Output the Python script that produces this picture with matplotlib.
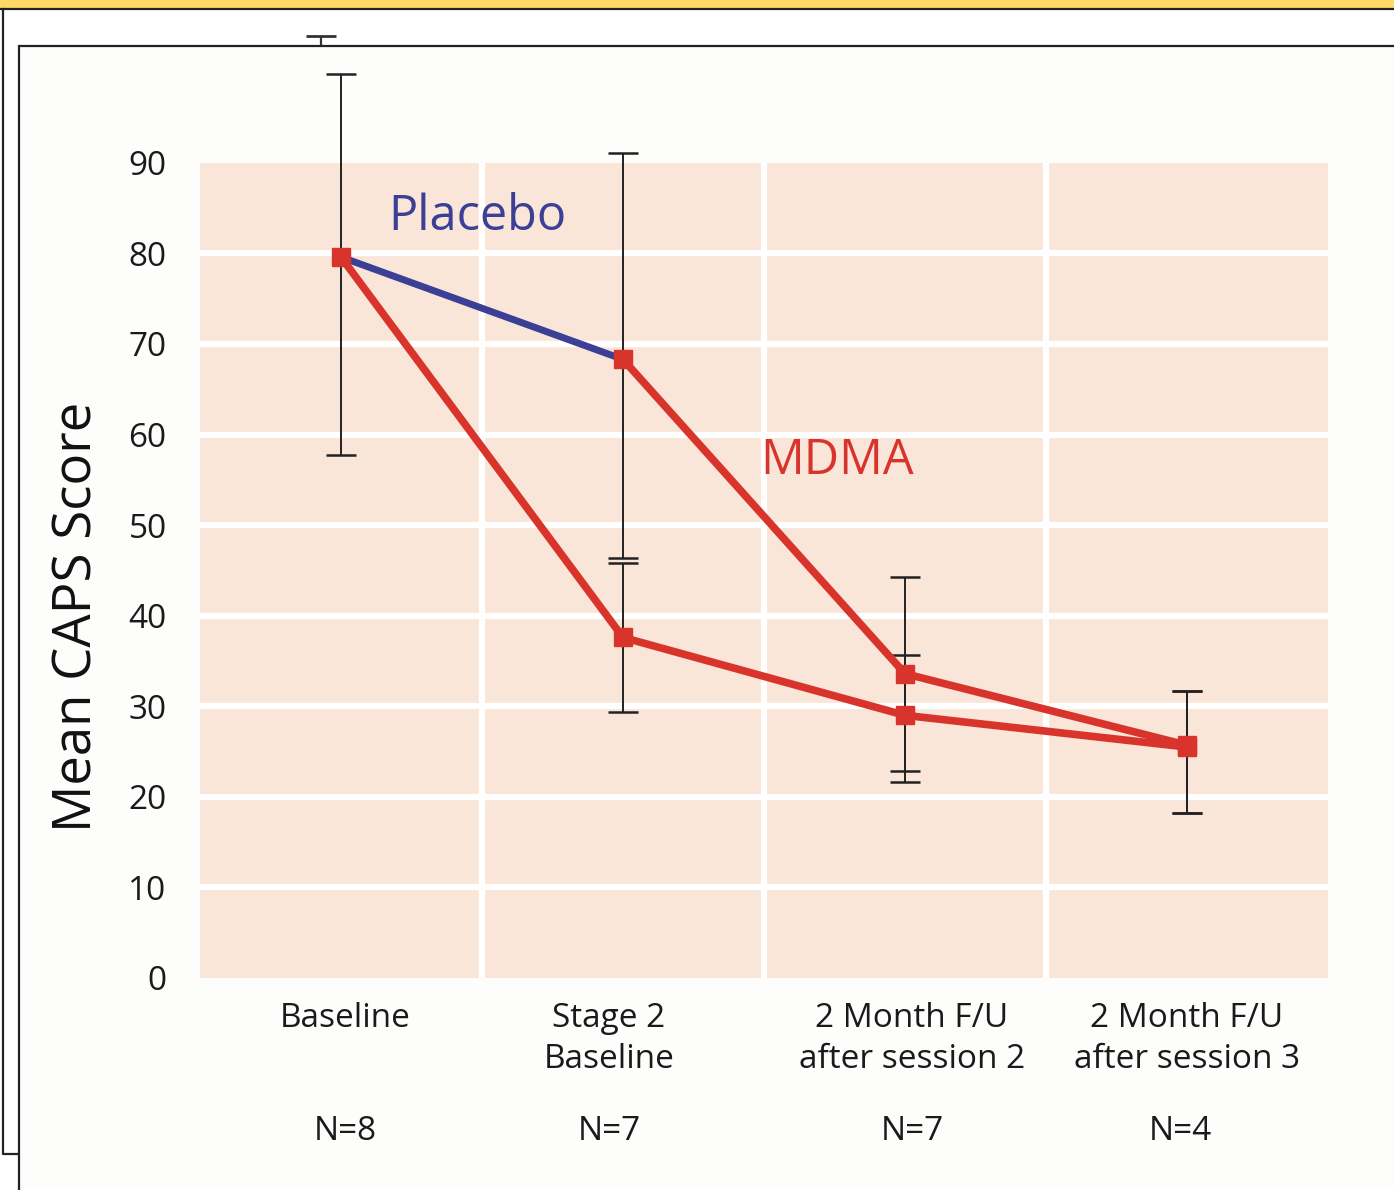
import matplotlib.pyplot as plt
from matplotlib.patches import Rectangle
from matplotlib.lines import Line2D
import numpy as np

plt.rcParams['font.family'] = ['Open Sans', 'DejaVu Sans']

# Data
categories = ["Baseline", "Stage 2\nBaseline", "2 Month F/U\nafter session 2", "2 Month F/U\nafter session 3"]
n_counts = [8, 7, 7, 4]
x_pos = np.arange(len(categories))

# original MDMA group
mdma = [79.6, 37.6, 29.0, 25.5]
mdma_lo = [57.7, 29.4, 21.6, 18.2]
mdma_hi = [99.8, 45.8, 35.7, 31.7]

# placebo group, crossing over to MDMA after stage 2 baseline
placebo = [79.6, 68.3]
placebo_lo = [55.3, 46.4]
placebo_hi = [104.0, 91.1]
crossover = [68.3, 33.6, 25.7]
crossover_lo = [46.4, 22.8, 18.2]
crossover_hi = [91.1, 44.3, 31.7]

red = '#d9342b'
blue = '#3b3f95'
peach = '#f9e6d9'
ink = '#1a1a1a'

fig = plt.figure(figsize=(13.94, 11.9), dpi=100)
W, H = 1394, 1190

# page decoration: yellow strip and the frames
fig.patches.append(Rectangle((0, 1 - 8 / H), 1, 8 / H, transform=fig.transFigure,
                             facecolor='#ffd966', edgecolor='none', zorder=-10))
fig.add_artist(Line2D([0, 1], [1 - 8.5 / H] * 2, color='#222222', lw=1.6, zorder=-9))
fig.add_artist(Line2D([3.5 / W, 3.5 / W, 19 / W], [1 - 8.5 / H, 1 - 1154 / H, 1 - 1154 / H],
                      color='#222222', lw=1.6, zorder=-9))

ax = fig.add_axes([200 / W, (H - 978) / H, 1128 / W, (978 - 46) / H])
ax.set_xlim(-0.5, 3.5)
ax.set_ylim(0, 102.9)
ax.patch.set_visible(False)
for s in ax.spines.values():
    s.set_visible(False)

# placebo baseline error bar, mostly hidden behind the inner frame
eb = ax.errorbar([x_pos[0] - 0.07], [placebo[0]],
                 yerr=[[placebo[0] - placebo_lo[0]], [placebo_hi[0] - placebo[0]]],
                 fmt='none', ecolor='#333333', elinewidth=1.6, capsize=11, capthick=2, zorder=0.2)
for art in eb.lines[1] + eb.lines[2]:
    art.set_clip_on(False)

# inner frame (white panel)
ax.add_patch(Rectangle((19 / W, -0.2), 1.2, 0.2 + (H - 46) / H, transform=fig.transFigure,
                       facecolor='#fdfdfc', edgecolor='#222222', lw=1.6, clip_on=False, zorder=0.4))

# peach grid cells
ax.add_patch(Rectangle((-0.5, 0), 4, 90, facecolor=peach, edgecolor='none', zorder=1))
for xv in [0.5, 1.5, 2.5]:
    ax.plot([xv, xv], [0, 90], color='white', lw=4.5, zorder=1.2, solid_capstyle='butt')
for yv in range(10, 90, 10):
    ax.plot([-0.5, 3.5], [yv, yv], color='white', lw=4.5, zorder=1.2, solid_capstyle='butt')

# error bars
def add_err(xs, ys, lo, hi):
    ys = np.array(ys)
    yerr = [ys - np.array(lo), np.array(hi) - ys]
    e = ax.errorbar(xs, ys, yerr=yerr, fmt='none', ecolor='#222222', elinewidth=1.4,
                    capsize=11, capthick=1.8, zorder=2)
    for art in e.lines[1] + e.lines[2]:
        art.set_clip_on(False)

add_err(x_pos, mdma, mdma_lo, mdma_hi)
add_err(x_pos[1:], crossover, crossover_lo, crossover_hi)

# lines
ax.plot(x_pos[:2], placebo, color=blue, lw=5, marker='s', ms=12, zorder=3)
ax.plot(x_pos[1:], crossover, color=red, lw=5.5, marker='s', ms=13, zorder=3.5)
ax.plot(x_pos, mdma, color=red, lw=5.5, marker='s', ms=13, zorder=3.5)

ax.text(0.485, 84.0, "Placebo", color=blue, fontsize=35, ha='center', va='center', zorder=4)
ax.text(1.76, 57.0, "MDMA", color=red, fontsize=35, ha='center', va='center', zorder=4)

ax.set_yticks(range(0, 100, 10))
ax.set_xticks([])
ax.tick_params(axis='both', length=0, labelsize=24, colors=ink)
ax.tick_params(axis='y', pad=24)

# category labels and group sizes, nudged like the original layout
label_shift = [0.015, -0.05, 0.025, 0.0]
n_shift = [0.015, -0.05, 0.025, -0.025]
for i, cat in enumerate(categories):
    ax.text(x_pos[i] + label_shift[i], -2.6, cat, fontsize=24, ha='center', va='top',
            linespacing=1.35, color=ink, clip_on=False)
    ax.text(x_pos[i] + n_shift[i], -17, f"N={n_counts[i]}", fontsize=24, ha='center',
            va='center', color=ink, clip_on=False)

fig.text(78 / W, 1 - 617 / H, "Mean CAPS Score", rotation=90, fontsize=38,
         ha='center', va='center', color='#111111')

fig.savefig('out.png', dpi=100, facecolor='white')
